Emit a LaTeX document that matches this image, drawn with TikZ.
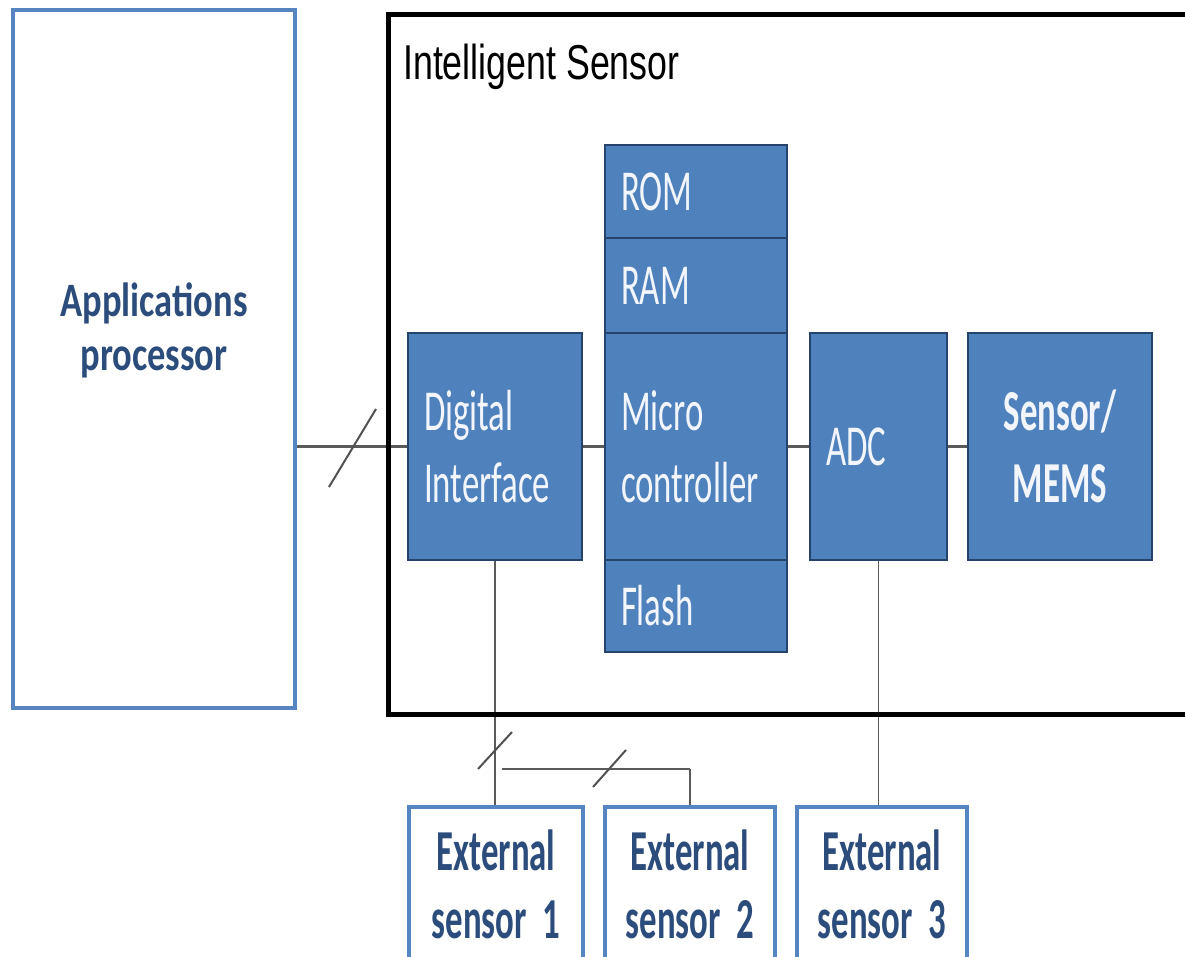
\documentclass[tikz,border=0pt]{standalone}
\usepackage{fontspec}
\usepackage{graphicx}
\setmainfont{Carlito}
\newfontfamily\titlefont{Liberation Sans}
\usetikzlibrary{calc}
\definecolor{bluefill}{HTML}{4F81BD}
\definecolor{blueedge}{HTML}{26436B}
\definecolor{blueline}{HTML}{5685C1}
\definecolor{txtblue}{HTML}{2C4D7C}
\definecolor{linegray}{HTML}{5A5A5A}
\definecolor{boxtext}{HTML}{F2F6FC}
% condensed setting of a single line of text
\newcommand{\nrw}[1]{\scalebox{0.6}[1]{#1}}
\newcommand{\nrwap}[1]{\scalebox{0.76}[1]{#1}}
\pgfdeclarelayer{bg}
\pgfdeclarelayer{paper}
\pgfsetlayers{paper,bg,main}
\tikzset{
  blk/.style={draw=blueedge, line width=2pt, fill=bluefill, text=boxtext,
    inner ysep=0pt, inner xsep=16pt, align=left,
    font=\fontsize{58}{72}\selectfont},
  extbox/.style={draw=blueline, line width=4pt, fill=white, text=txtblue,
    inner sep=0pt, minimum height=154, align=center,
    font=\bfseries\fontsize{58}{68}\selectfont},
  conn/.style={draw=linegray, line width=3.5pt},
  thinconn/.style={draw=linegray, line width=1.4pt},
  midconn/.style={draw=linegray, line width=2.6pt},
  busmark/.style={draw=linegray!90!black, line width=2pt},
}
\begin{document}
\begin{tikzpicture}[x=1pt,y=-1pt]
\useasboundingbox (0,0) rectangle (1185,957);
\clip (0,0) rectangle (1185,957);
\begin{pgfonlayer}{paper}
  \fill[white] (0,0) rectangle (1185,957);
\end{pgfonlayer}

% host processor
\node[draw=blueline, line width=4pt, minimum width=282, minimum height=698,
      inner sep=0pt] (ap) at (154,359) {};
\node[text=txtblue, align=center, font=\bfseries\fontsize{48}{54}\selectfont]
      (aplbl) at (154,330) {\nrwap{Applications}\\\nrwap{processor}};

% sensor enclosure
\node[draw=black, line width=5pt, minimum width=800, minimum height=700,
      inner sep=0pt, anchor=north west] (isn) at (386,12) {};
\node[anchor=base west, inner sep=0pt, font=\titlefont\fontsize{49}{58}\selectfont]
      (ttl) at (403,80) {\scalebox{0.73}[1]{Intelligent Sensor}};

% blocks inside the sensor
\node[blk, text width=142, minimum height=227] (di) at (495,446.5)
      {\nrw{Digital}\\\nrw{Interface}};
\node[blk, text width=150, minimum height=93] (rom) at (696,191.5) {\nrw{ROM}};
\node[blk, text width=150, minimum height=95] (ram) at (696,285.5) {\nrw{RAM}};
\node[blk, text width=150, minimum height=227] (mc) at (696,446.5)
      {\nrw{Micro}\\\nrw{controller}};
\node[blk, text width=150, minimum height=92] (fl) at (696,606) {\nrw{Flash}};
\node[blk, text width=105, minimum height=227] (adc) at (878.5,446.5) {\nrw{ADC}};
\node[blk, text width=152, minimum height=227, align=center,
      font=\bfseries\fontsize{58}{72}\selectfont] (sm) at (1060,446.5)
      {\nrw{Sensor/}\\\nrw{MEMS}};

% external sensors
\node[extbox, minimum width=174] (es1) at (496,884) {\nrw{External}\\\nrw{sensor\ \ 1}};
\node[extbox, minimum width=170] (es2) at (690,884) {\nrw{External}\\\nrw{sensor\ \ 2}};
\node[extbox, minimum width=170] (es3) at (882,884) {\nrw{External}\\\nrw{sensor\ \ 3}};

% bus marks and branch point
\coordinate (m1a) at (329,487);
\coordinate (m1b) at (376,409);
\coordinate (m2a) at (478,769);
\coordinate (m2b) at (512,732);
\coordinate (m3a) at (593,787);
\coordinate (m3b) at (626,750);
\coordinate (br) at (502,769);

\begin{pgfonlayer}{bg}
  \draw[conn] (ap.east |- di.west) -- (di.west);
  \draw[conn] (di.east) -- (mc.west);
  \draw[conn] (mc.east) -- (adc.west);
  \draw[conn] (adc.east) -- (sm.west);
  \draw[thinconn] (di.south) -- (di.south |- es1.north);
  \draw[midconn] (br) -- (br -| es2.north);
  \draw[thinconn] (br -| es2.north) -- (es2.north);
  \draw[thinconn] (adc.south) -- (adc.south |- es3.north);
\end{pgfonlayer}
\draw[busmark] (m1a) -- (m1b);
\draw[busmark] (m2a) -- (m2b);
\draw[busmark] (m3a) -- (m3b);
\end{tikzpicture}
\end{document}
